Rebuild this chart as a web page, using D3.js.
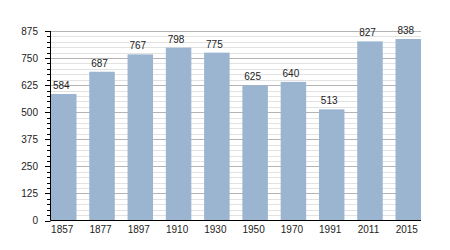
<!DOCTYPE html>
<html lang="en">

<head>
    <meta charset="UTF-8">
    <title>Population</title>
    <script src="https://d3js.org/d3.v7.min.js"></script>
    <style>
        body { margin: 0; background: #fff; }
        text { font-family: "Liberation Sans", Arial, sans-serif; fill: #222; }
    </style>
</head>

<body>
    <svg width="450" height="250"></svg>

    <script>
        // Data
        const years = ['1857', '1877', '1897', '1910', '1930', '1950', '1970', '1991', '2011', '2015'];
        const population = [584, 687, 767, 798, 775, 625, 640, 513, 827, 838];
        const yTicks = [0, 125, 250, 375, 500, 625, 750, 875];

        const width = 450;
        const height = 250;
        const plotLeft = 50.5, plotRight = 421, plotTop = 31, plotBottom = 220.5;

        const svg = d3.select('svg')
            .attr('width', width)
            .attr('height', height);

        const x = d3.scaleBand()
            .domain(years)
            .range([51, 421])
            .paddingInner(0.334)
            .paddingOuter(0);

        const y = d3.scaleLinear()
            .domain([0, 875])
            .range([plotBottom, plotTop]);

        const minor = d3.range(0, 876, 25).filter(v => v % 125 !== 0);
        const py = d => Math.round(y(d)) + 0.5;

        // minor gridlines
        svg.append('g')
            .selectAll('line')
            .data(minor)
            .join('line')
            .attr('x1', plotLeft).attr('x2', plotRight)
            .attr('y1', py).attr('y2', py)
            .attr('stroke', '#e2e2e2');

        // major gridlines
        svg.append('g')
            .selectAll('line')
            .data(yTicks.slice(1))
            .join('line')
            .attr('x1', plotLeft).attr('x2', plotRight)
            .attr('y1', py).attr('y2', py)
            .attr('stroke', '#b4b4b4');

        // bars
        svg.append('g')
            .selectAll('rect')
            .data(population)
            .join('rect')
            .attr('x', (d, i) => x(years[i]))
            .attr('y', d => y(d))
            .attr('width', x.bandwidth())
            .attr('height', d => y(0) - y(d))
            .attr('fill', '#9bb4d0');

        // value labels
        svg.append('g')
            .selectAll('text')
            .data(population)
            .join('text')
            .attr('x', (d, i) => x(years[i]) + x.bandwidth() / 2 - 2.5)
            .attr('y', d => y(d) - 5)
            .attr('text-anchor', 'middle')
            .attr('font-size', 10)
            .text(d => d);

        // y axis
        const yAxis = svg.append('g');
        yAxis.append('line')
            .attr('x1', plotLeft).attr('x2', plotLeft)
            .attr('y1', plotTop).attr('y2', plotBottom)
            .attr('stroke', '#000');
        yAxis.selectAll('.minor')
            .data(minor)
            .join('line')
            .attr('class', 'minor')
            .attr('x1', 47).attr('x2', plotLeft)
            .attr('y1', py).attr('y2', py)
            .attr('stroke', '#000');
        yAxis.selectAll('.major')
            .data(yTicks)
            .join('line')
            .attr('class', 'major')
            .attr('x1', 45).attr('x2', plotLeft)
            .attr('y1', py).attr('y2', py)
            .attr('stroke', '#000');
        yAxis.selectAll('text')
            .data(yTicks)
            .join('text')
            .attr('x', 38)
            .attr('y', d => y(d))
            .attr('dy', '0.35em')
            .attr('text-anchor', 'end')
            .attr('font-size', 10)
            .text(d => d);

        // x axis
        svg.append('line')
            .attr('x1', plotLeft).attr('x2', plotRight)
            .attr('y1', plotBottom).attr('y2', plotBottom)
            .attr('stroke', '#000');
        svg.append('g')
            .selectAll('text')
            .data(years)
            .join('text')
            .attr('x', d => x(d) + x.bandwidth() / 2 - 1.5)
            .attr('y', 233)
            .attr('text-anchor', 'middle')
            .attr('font-size', 10)
            .text(d => d);
    </script>
</body>

</html>
